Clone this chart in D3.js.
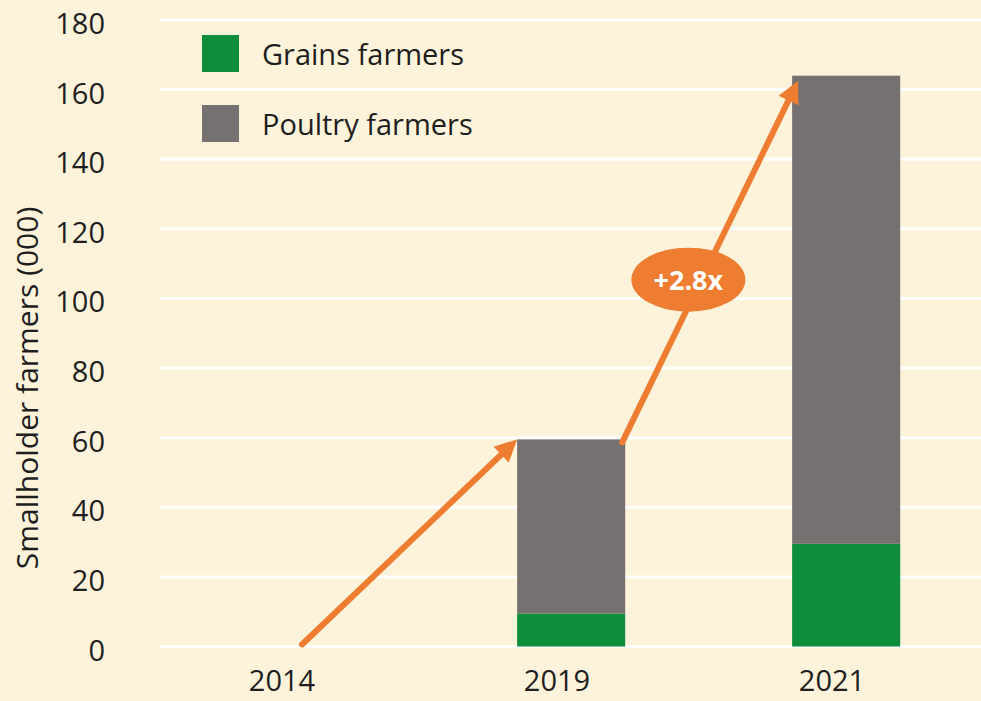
<!DOCTYPE html>
<html>
<head>
<meta charset="utf-8">
<script src="https://cdn.jsdelivr.net/npm/d3@7"></script>
<style>
  html, body { margin: 0; padding: 0; background: #FDF3DA; }
  svg { display: block; }
  text { font-family: "Open Sans", "Noto Sans", sans-serif; }
</style>
</head>
<body>
<svg id="chart" width="981" height="701"></svg>
<script>
// Smallholder farmers reached (thousands), by year and farmer type
const years = ["2014", "2019", "2021"];
const grainsFarmers = [0, 9.5, 29.5];
const poultryFarmers = [0, 50, 134.5];
const seriesKeys = ["grains", "poultry"];
const seriesLabels = ["Grains farmers", "Poultry farmers"];
const yTickValues = [0, 20, 40, 60, 80, 100, 120, 140, 160, 180];
const yAxisTitle = "Smallholder farmers (000)";
const growthLabel = "+2.8x";

const colors = { grains: "#0E8E3A", poultry: "#767171" };
const accent = "#EE7D31";
const ink = "#1E1E1E";

const svg = d3.select("#chart");
const W = 981, H = 701;

const rows = years.map((yr, i) => ({ year: yr, grains: grainsFarmers[i], poultry: poultryFarmers[i] }));
const stacked = d3.stack().keys(seriesKeys)(rows);

const x = d3.scaleBand().domain(years).range([144.5, 969.5]).padding(0);
const bw = x.bandwidth();
const barLeft = yr => x(yr) + bw * 0.355;
const barWidth = bw * 0.393;

const y = d3.scaleLinear().domain([0, 180]).range([646.5, 20]);

// horizontal gridlines
svg.append("g").selectAll("line").data(yTickValues).join("line")
  .attr("x1", 160).attr("x2", W)
  .attr("y1", d => y(d)).attr("y2", d => y(d))
  .attr("stroke", "#FFFFFF").attr("stroke-width", 3);

// y tick labels
svg.append("g").selectAll("text").data(yTickValues).join("text")
  .attr("x", 105).attr("y", d => y(d) + 14)
  .attr("text-anchor", "end")
  .attr("font-size", 29).attr("fill", ink)
  .text(d => d);

// y axis title
svg.append("text")
  .attr("transform", "translate(38,388) rotate(-90)")
  .attr("text-anchor", "middle")
  .attr("font-size", 30).attr("fill", ink)
  .text(yAxisTitle);

// x category labels
svg.append("g").selectAll("text").data(years).join("text")
  .attr("x", d => x(d) + bw / 2).attr("y", 691)
  .attr("text-anchor", "middle")
  .attr("font-size", 29).attr("fill", ink)
  .text(d => d);

// stacked bars
svg.append("g").selectAll("g").data(stacked).join("g")
  .attr("fill", d => colors[d.key])
  .selectAll("rect").data(d => d.filter(p => p[1] - p[0] > 0)).join("rect")
  .attr("x", d => barLeft(d.data.year))
  .attr("width", barWidth)
  .attr("y", d => y(d[1]))
  .attr("height", d => y(d[0]) - y(d[1]));

// legend
const legend = svg.append("g");
seriesKeys.forEach((k, i) => {
  legend.append("rect")
    .attr("x", 202).attr("y", 35 + i * 70)
    .attr("width", 37).attr("height", 37)
    .attr("fill", colors[k]);
  legend.append("text")
    .attr("x", 262).attr("y", 65 + i * 70)
    .attr("font-size", 29).attr("fill", ink)
    .text(seriesLabels[i]);
});

// growth arrows between totals
const totals = rows.map(r => r.grains + r.poultry);
function arrow(x1, y1, x2, y2) {
  const dx = x2 - x1, dy = y2 - y1, len = Math.hypot(dx, dy);
  const ux = dx / len, uy = dy / len;
  const head = 22, half = 11;
  const bx = x2 - ux * head, by = y2 - uy * head;
  svg.append("line")
    .attr("x1", x1).attr("y1", y1)
    .attr("x2", bx + ux * 2).attr("y2", by + uy * 2)
    .attr("stroke", accent).attr("stroke-width", 6).attr("stroke-linecap", "round");
  svg.append("path")
    .attr("d", `M${x2},${y2}L${bx - uy * half},${by + ux * half}L${bx + uy * half},${by - ux * half}Z`)
    .attr("fill", accent);
}

const a1 = [x("2014") + bw / 2 + 20, y(totals[0]) - 2, barLeft("2019"), y(totals[1])];
const a2 = [barLeft("2019") + barWidth - 3, y(totals[1]) + 3, barLeft("2021") + 6, y(totals[2]) + 5];
arrow(...a1);
arrow(...a2);

// growth badge on the second arrow
const t = 0.45;
const cx = a2[0] + (a2[2] - a2[0]) * t - 13;
const cy = a2[1] + (a2[3] - a2[1]) * t;
svg.append("ellipse")
  .attr("cx", cx).attr("cy", cy).attr("rx", 57).attr("ry", 32)
  .attr("fill", accent);
svg.append("text")
  .attr("x", cx).attr("y", cy + 10)
  .attr("text-anchor", "middle")
  .attr("font-size", 27).attr("font-weight", 700).attr("fill", "#FFFFFF")
  .text(growthLabel);
</script>
</body>
</html>
